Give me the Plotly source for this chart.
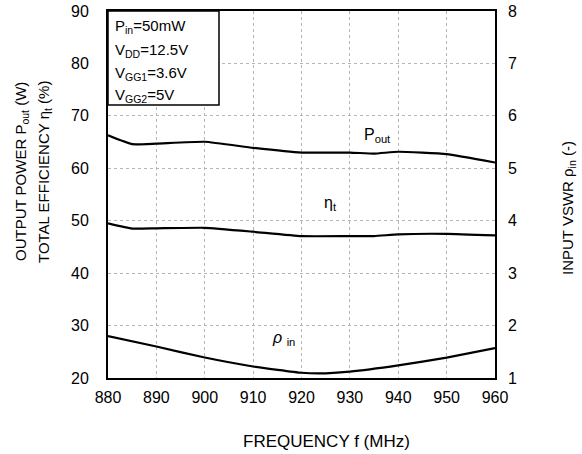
import plotly.graph_objects as go

freq = [880, 885, 890, 900, 910, 920, 930, 935, 940, 950, 960]
pout = [66.3, 64.6, 64.7, 65.06, 63.9, 63.0, 63.0, 62.8, 63.15, 62.7, 61.1]
eta = [49.5, 48.5, 48.55, 48.65, 47.9, 47.06, 47.06, 47.06, 47.4, 47.5, 47.2]
freq_v = [880, 890, 900, 910, 920, 925, 930, 940, 950, 960]
vswr = [1.80, 1.60, 1.39, 1.22, 1.10, 1.09, 1.12, 1.24, 1.39, 1.57]

x_ticks = [880, 890, 900, 910, 920, 930, 940, 950, 960]
y_ticks = [20, 30, 40, 50, 60, 70, 80, 90]
y2_ticks = [1, 2, 3, 4, 5, 6, 7, 8]

FONT = "Arial, Liberation Sans, sans-serif"
line = dict(color="black", width=2.2, shape="spline", smoothing=0.4)

W, H = 582, 454
L, R, T, B = 108, 495, 11, 378  # plot area in page pixels

fig = go.Figure()
fig.add_trace(go.Scatter(x=freq, y=pout, mode="lines", line=line, showlegend=False))
fig.add_trace(go.Scatter(x=freq, y=eta, mode="lines", line=line, showlegend=False))
fig.add_trace(go.Scatter(x=freq_v, y=vswr, mode="lines", line=line, yaxis="y2", showlegend=False))

grid = dict(showgrid=True, gridcolor="#b5b5b5", gridwidth=1, griddash="dot")
tickfont = dict(size=16)
fig.update_layout(
    width=W, height=H,
    margin=dict(l=L, r=W - R, t=T, b=H - B, pad=0, autoexpand=False),
    paper_bgcolor="white", plot_bgcolor="white",
    font=dict(family=FONT, size=15, color="black"),
    xaxis=dict(range=[880, 960], tickvals=x_ticks, showline=True, linecolor="black", linewidth=2,
               mirror=True, ticks="", ticklabelstandoff=4, zeroline=False, tickfont=tickfont,
               automargin=False, ticklabeloverflow="allow", **grid),
    yaxis=dict(range=[20, 90], tickvals=y_ticks, showline=True, linecolor="black", linewidth=2,
               mirror=True, ticks="", ticklabelstandoff=14, zeroline=False, tickfont=tickfont,
               automargin=False, ticklabeloverflow="allow", **grid),
    yaxis2=dict(range=[1, 8], tickvals=y2_ticks, overlaying="y", side="right", showgrid=False,
                ticks="", ticklabelstandoff=12, zeroline=False, showline=False, tickfont=tickfont,
                automargin=False, ticklabeloverflow="allow"),
)

pw, ph = R - L, B - T


def px(xp):
    return (xp - L) / pw


def py(yp):
    return (B - yp) / ph


ctr = dict(xref="paper", yref="paper", xanchor="center", yanchor="middle", showarrow=False)
ann = []
ann.append(dict(text="OUTPUT POWER P<sub>out</sub> (W)", x=px(21), y=py(172), textangle=-90,
                font=dict(size=15), **ctr))
ann.append(dict(text="TOTAL EFFICIENCY \u03b7<sub>t</sub> (%)", x=px(44), y=py(172), textangle=-90,
                font=dict(size=15), **ctr))
ann.append(dict(text="INPUT VSWR \u03c1<sub>in</sub> (-)", x=px(568), y=py(208), textangle=-90,
                font=dict(size=15), **ctr))
ann.append(dict(text="FREQUENCY f (MHz)", x=px(326), y=py(442), font=dict(size=17), **ctr))

# curve labels
ann.append(dict(text="P<sub>out</sub>", x=935.8, y=66.2, xref="x", yref="y", showarrow=False, font=dict(size=16)))
ann.append(dict(text="\u03b7<sub>t</sub>", x=925.9, y=53.2, xref="x", yref="y", showarrow=False, font=dict(size=16)))
ann.append(dict(text="<i>\u03c1</i> <sub>in</sub>", x=916.2, y=27.6, xref="x", yref="y", showarrow=False, font=dict(size=16)))

# condition box text
cond = ["P<sub>in</sub>=50mW", "V<sub>DD</sub>=12.5V", "V<sub>GG1</sub>=3.6V", "V<sub>GG2</sub>=5V"]
cond_y = [27, 50, 73, 95]
for t, yy in zip(cond, cond_y):
    ann.append(dict(text=t, x=px(114), y=py(yy), xref="paper", yref="paper", borderpad=0,
                    xanchor="left", yanchor="middle", showarrow=False, font=dict(size=15)))
fig.update_layout(annotations=ann)

fig.add_shape(type="rect", xref="paper", yref="paper", x0=0, x1=px(219),
              y0=py(105), y1=1, line=dict(color="black", width=1.5), fillcolor="white",
              layer="above")

fig.write_html("out.html", config={"displayModeBar": False},
               post_script="document.body.style.margin='0';")
